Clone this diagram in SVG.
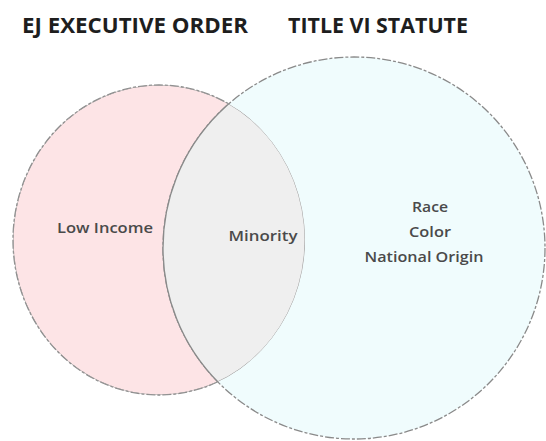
<svg xmlns="http://www.w3.org/2000/svg" width="546" height="441" viewBox="0 0 546 441">
<style>
.title{font-family:"Open Sans","Liberation Sans",sans-serif;font-weight:bold;font-size:22px;fill:#1e1e1e}
.lbl{font-family:"Open Sans","Liberation Sans",sans-serif;font-size:13.5px;font-weight:600;fill:#4a4a4a}
.c{stroke:#8a8a8a;stroke-width:1.3;stroke-dasharray:9 2 3 2}
</style>
<defs>
<clipPath id="clipL"><ellipse cx="159" cy="240" rx="146" ry="155"/></clipPath>
</defs>
<rect width="546" height="441" fill="#fff"/>
<g id="titles">
<text class="title" x="22" y="33" textLength="226" lengthAdjust="spacingAndGlyphs">EJ EXECUTIVE ORDER</text>
<text class="title" x="288" y="33" textLength="180" lengthAdjust="spacingAndGlyphs">TITLE VI STATUTE</text>
</g>
<g id="ej">
<ellipse class="c" cx="159" cy="240" rx="146" ry="155" fill="#fde4e6"/>
</g>
<g id="title-vi">
<circle class="c" cx="354" cy="248" r="191" fill="#f0fcfd"/>
</g>
<g id="overlap">
<circle cx="354" cy="248" r="191" fill="#efefef" clip-path="url(#clipL)"/>
<ellipse cx="159" cy="240" rx="146" ry="155" fill="none" stroke="#a0a0a0" stroke-width="1" clip-path="url(#clipL)"/>
<circle cx="354" cy="248" r="191" fill="none" stroke="#8a8a8a" stroke-width="1.3" clip-path="url(#clipL)"/>
</g>
<g id="labels">
<text class="lbl" x="105" y="233" text-anchor="middle" textLength="96" lengthAdjust="spacingAndGlyphs">Low Income</text>
<text class="lbl" x="263" y="241" text-anchor="middle" textLength="69" lengthAdjust="spacingAndGlyphs">Minority</text>
<text class="lbl" x="430" y="212" text-anchor="middle" textLength="36" lengthAdjust="spacingAndGlyphs">Race</text>
<text class="lbl" x="430" y="237" text-anchor="middle" textLength="42" lengthAdjust="spacingAndGlyphs">Color</text>
<text class="lbl" x="424" y="262" text-anchor="middle" textLength="119" lengthAdjust="spacingAndGlyphs">National Origin</text>
</g>
</svg>
